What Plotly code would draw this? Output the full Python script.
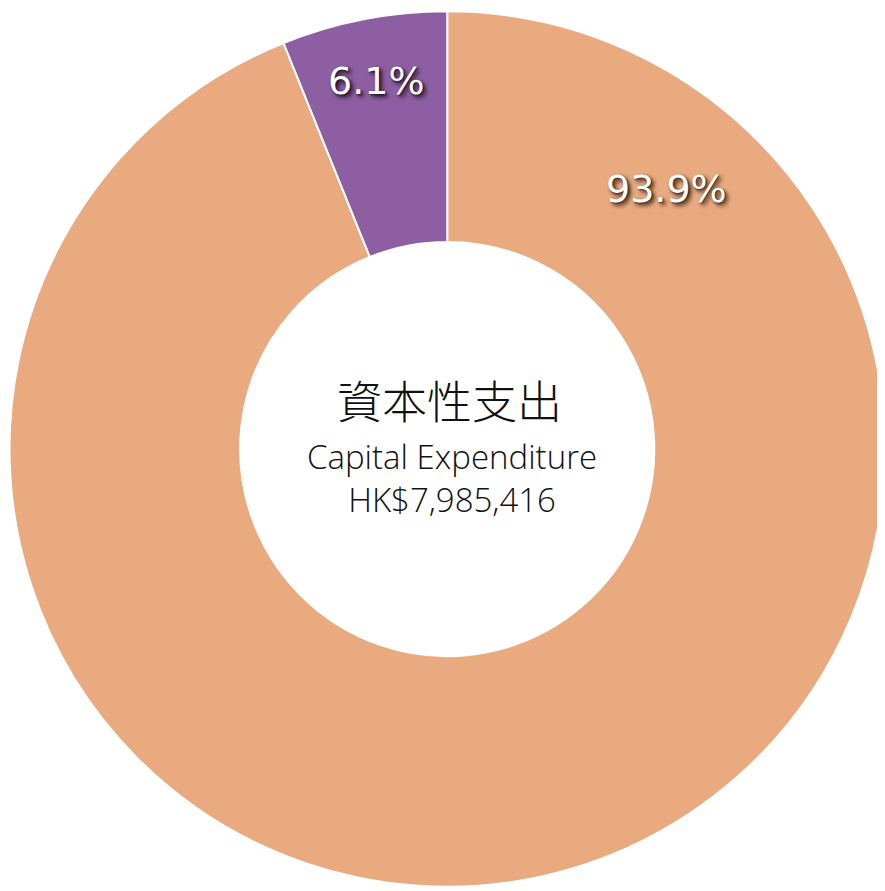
import math
import plotly.graph_objects as go

labels = ["Other", "Minor"]
values = [93.9, 6.1]
slice_colors = ["#E8AA7E", "#8E5EA2"]
shadow_colors = ["3px 3px 4px #3a2416, 1px 1px 2px #3a2416",
                 "3px 3px 4px #22102a, 1px 1px 2px #22102a"]
center_title = "資本性支出"
center_sub = ["Capital Expenditure", "HK$7,985,416"]

W, H = 877, 883  # visible plot area (page body has an 8px margin)
CX, CY, R = 439.5, 441.0, 438.0

fig = go.Figure()
fig.add_trace(go.Pie(
    labels=labels,
    values=values,
    hole=0.473,
    sort=False,
    direction="clockwise",
    rotation=0,
    marker=dict(colors=slice_colors, line=dict(color="white", width=2)),
    textinfo="none",
    domain=dict(x=[max(0, (CX - R) / W), min(1, (CX + R) / W)],
                y=[1 - (CY + R) / H, 1 - (CY - R) / H]),
    showlegend=False,
    hoverinfo="label+percent",
))

total = sum(values)
# label angles (degrees clockwise from 12 o'clock) and radii in px
small_mid = -(values[1] / total * 360) / 2
label_pos = [(40.0, 340.0), (small_mid, 375.0)]
for v, (ang, rad), sh in zip(values, label_pos, shadow_colors):
    px = CX + rad * math.sin(math.radians(ang))
    py = CY - rad * math.cos(math.radians(ang))
    fig.add_annotation(x=px / W, y=1 - py / H, xref="paper", yref="paper",
                       xanchor="center", yanchor="middle",
                       text=f"{v:.1f}%", showarrow=False,
                       font=dict(family="DejaVu Sans", size=38, color="white", shadow=sh))

fig.add_annotation(x=441 / W, y=1 - 391.5 / H, xref="paper", yref="paper",
                   xanchor="center", yanchor="middle",
                   text=center_title, showarrow=False,
                   font=dict(family="Noto Sans CJK TC", size=45, color="#111", weight=300))
fig.add_annotation(x=444 / W, y=1 - 470 / H, xref="paper", yref="paper",
                   xanchor="center", yanchor="middle",
                   text="<br>".join(center_sub), showarrow=False,
                   font=dict(family="Open Sans", size=33, color="#111", weight=300))

fig.update_layout(width=W, height=H, margin=dict(l=0, r=0, t=0, b=0),
                  paper_bgcolor="white", plot_bgcolor="white")
fig.write_html("out.html")
